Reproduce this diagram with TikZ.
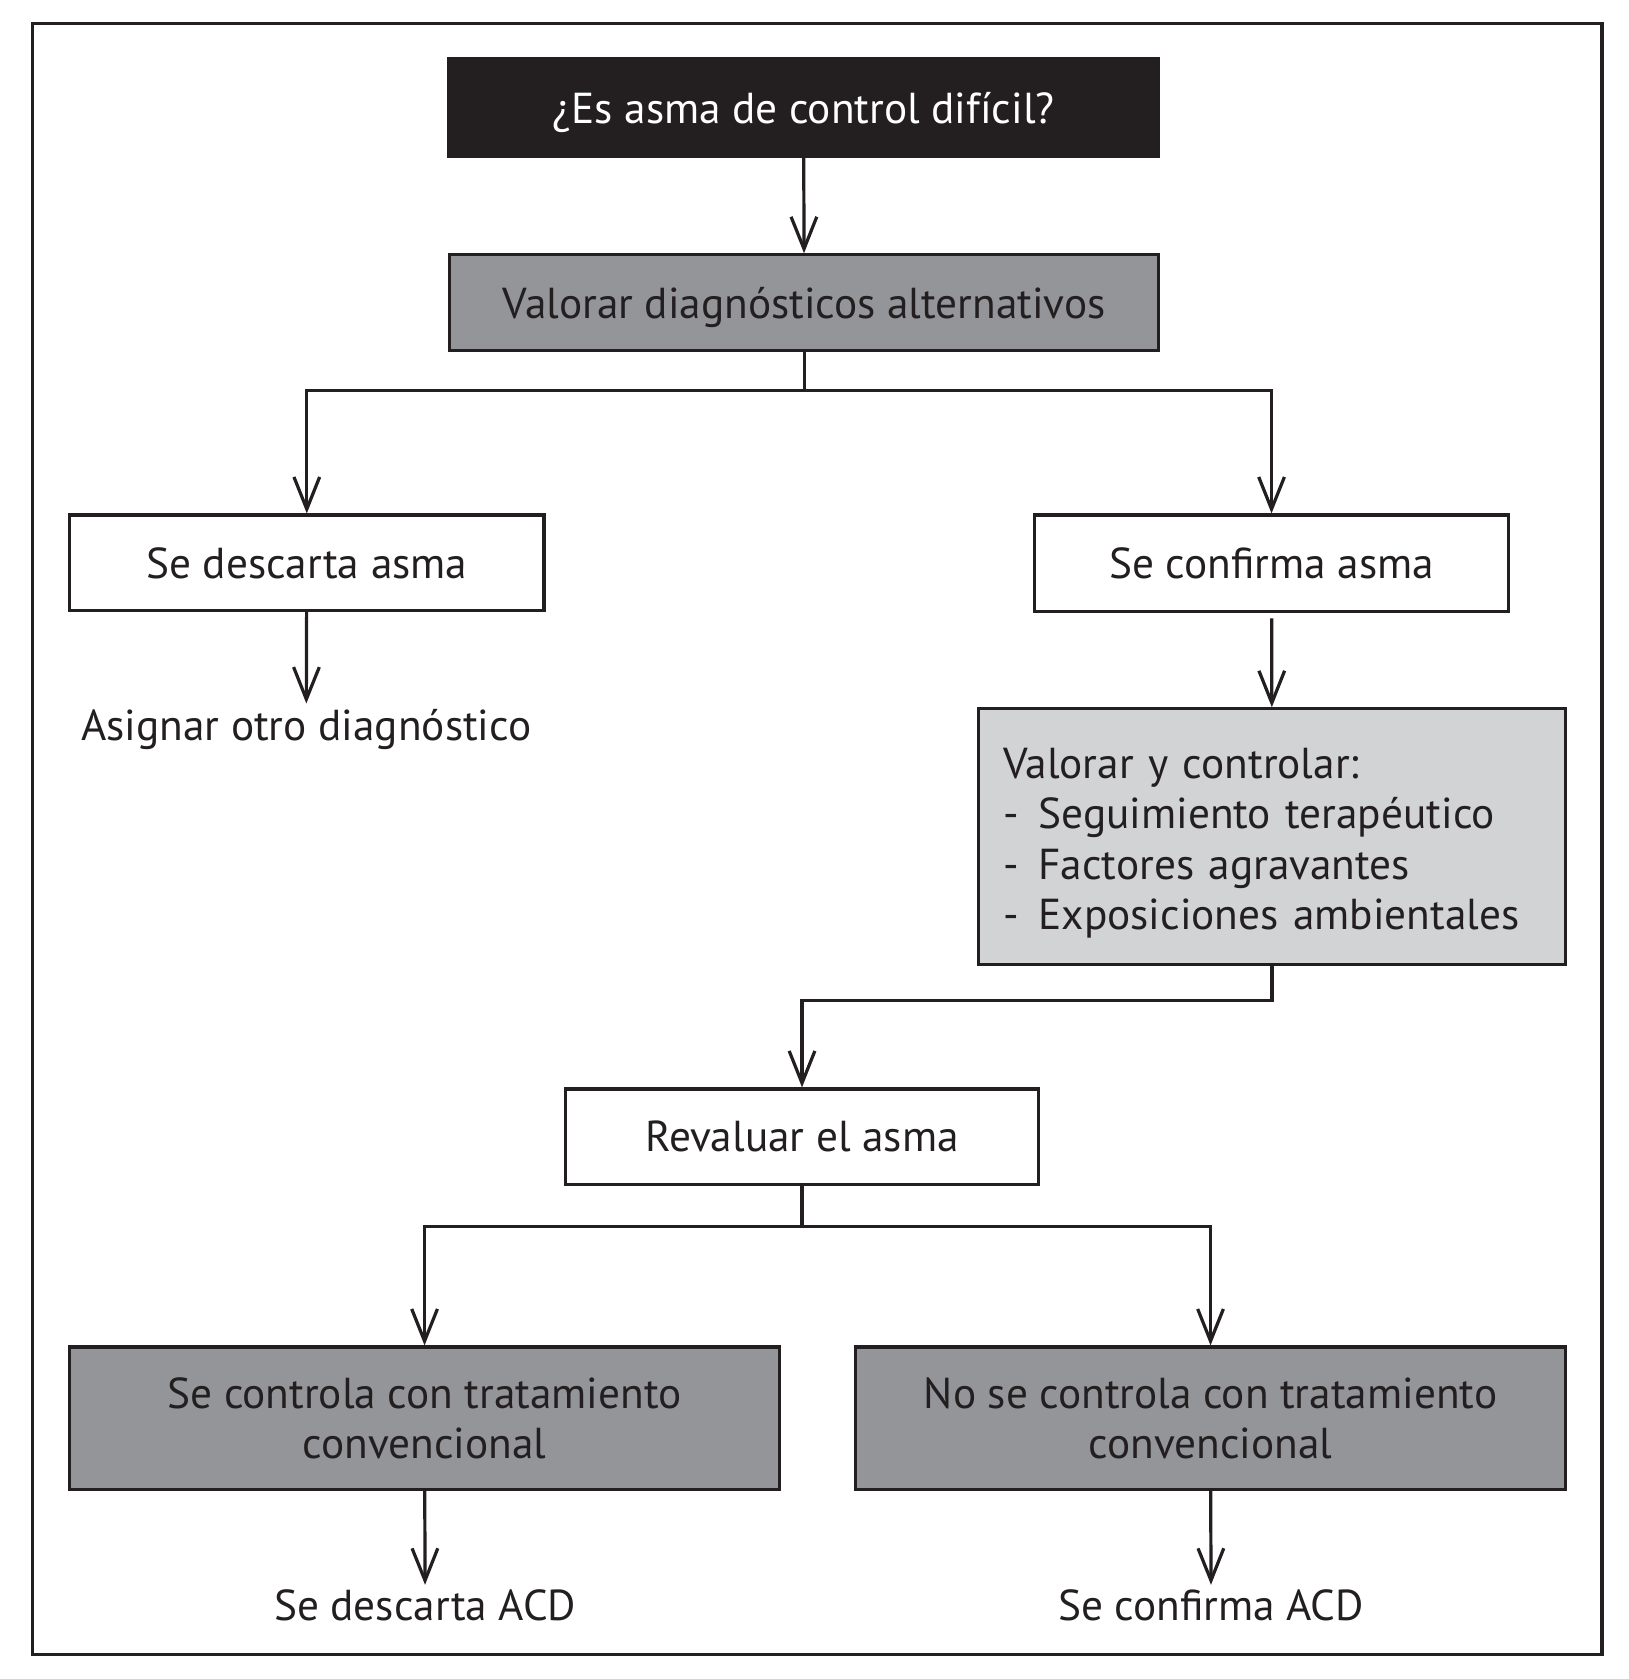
\documentclass[tikz,border=0pt]{standalone}
\usepackage{fontspec}
\setmainfont{PT Sans}
\usetikzlibrary{arrows.meta}

\definecolor{inkblack}{HTML}{231F20}
\definecolor{midgray}{HTML}{939598}
\definecolor{lightgray}{HTML}{D1D3D4}

\begin{document}
\begin{tikzpicture}[x=0.01cm,y=-0.01cm,line width=0.03cm,
	>/.tip={Straight Barb[length=0.3cm,width=0.24cm]},
	box/.style={draw=inkblack,line width=0.03cm,inner sep=0pt,align=center,
		text=inkblack,font=\fontsize{11.5}{13.4}\selectfont},
	oneline/.style={box,text depth=0pt},
	label/.style={inner sep=1pt,text=inkblack,font=\fontsize{11.5}{13.4}\selectfont}]
\useasboundingbox (0,0) rectangle (1521,1568);
\draw[inkblack] (30,22) rectangle (1496,1545);

% top of the chart
\node[oneline,fill=inkblack,text=white,minimum width=6.63cm,minimum height=0.91cm] (q) at (750.5,100.5) {¿Es asma de control difícil?};
\node[oneline,fill=midgray,minimum width=6.62cm,minimum height=0.89cm] (valdiag) at (751,282.5) {Valorar diagnósticos alternativos};
\node[oneline,fill=white,minimum width=4.43cm,minimum height=0.89cm] (descarta) at (286.5,525.5) {Se descarta asma};
\node[oneline,fill=white,minimum width=4.43cm,minimum height=0.90cm] (confirma) at (1187.5,526) {Se confirma asma};
\node[label,anchor=north] (asignar) at (286,657) {Asignar otro diagnóstico};
\node[box,fill=lightgray,minimum width=5.48cm,minimum height=2.39cm,text width=5.02cm,align=left] (valctrl) at (1188,781.5)
	{\rule{0pt}{0.4cm}Valorar y controlar:\\
	\makebox[0.33cm][l]{-}Seguimiento terapéutico\\
	\makebox[0.33cm][l]{-}Factores agravantes\\
	\makebox[0.33cm][l]{-}Exposiciones ambientales};

% bottom of the chart
\node[oneline,fill=white,minimum width=4.42cm,minimum height=0.89cm] (revaluar) at (749,1061.5) {Revaluar el asma};
\node[box,fill=midgray,minimum width=6.63cm,minimum height=1.33cm] (controla) at (396.5,1324.5) {Se controla con tratamiento\\convencional};
\node[box,fill=midgray,minimum width=6.63cm,minimum height=1.33cm] (nocontrola) at (1130.5,1324.5) {No se controla con tratamiento\\convencional};
\node[label,anchor=north] (descacd) at (397,1480) {Se descarta ACD};
\node[label,anchor=north] (confacd) at (1131,1480) {Se confirma ACD};

\draw[->,inkblack] (q) -- (valdiag);
\draw[->,inkblack] (valdiag.south) -- ++(0,36) -| (descarta.north);
\draw[->,inkblack] (valdiag.south) -- ++(0,36) -| (confirma.north);
\draw[->,inkblack] (descarta) -- (asignar);
\draw[->,inkblack,shorten <=0.05cm] (confirma) -- (valctrl);
\draw[->,inkblack] (valctrl.south) -- ++(0,32) -| (revaluar.north);
\draw[->,inkblack] (revaluar.south) -- ++(0,38) -| (controla.north);
\draw[->,inkblack] (revaluar.south) -- ++(0,38) -| (nocontrola.north);
\draw[->,inkblack] (controla) -- (descacd);
\draw[->,inkblack] (nocontrola) -- (confacd);
\end{tikzpicture}
\end{document}
